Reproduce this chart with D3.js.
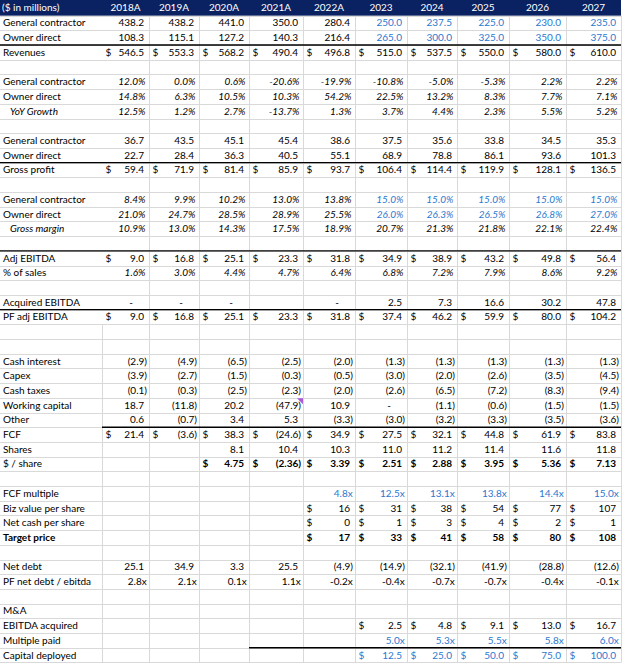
<!DOCTYPE html>
<html><head><meta charset="utf-8">
<script src="https://cdn.jsdelivr.net/npm/d3@7"></script>
<style>html,body{margin:0;padding:0;background:#fff;} svg{display:block;font-family:Lato,"Open Sans",sans-serif;}</style>
</head><body><div id="chart"></div>
<script>
// ---------- data ----------
const headerLabel = "($ in millions)";
const years = ["2018A","2019A","2020A","2021A","2022A","2023","2024","2025","2026","2027"];
const gcRevenue = [438.2,438.2,441.0,350.0,280.4,250.0,237.5,225.0,230.0,235.0];
const odRevenue = [108.3,115.1,127.2,140.3,216.4,265.0,300.0,325.0,350.0,375.0];
const revenues = [546.5,553.3,568.2,490.4,496.8,515.0,537.5,550.0,580.0,610.0];
const gcGrowth = [12.0,0.0,0.6,-20.6,-19.9,-10.8,-5.0,-5.3,2.2,2.2];
const odGrowth = [14.8,6.3,10.5,10.3,54.2,22.5,13.2,8.3,7.7,7.1];
const yoyGrowth = [12.5,1.2,2.7,-13.7,1.3,3.7,4.4,2.3,5.5,5.2];
const gcGrossProfit = [36.7,43.5,45.1,45.4,38.6,37.5,35.6,33.8,34.5,35.3];
const odGrossProfit = [22.7,28.4,36.3,40.5,55.1,68.9,78.8,86.1,93.6,101.3];
const grossProfit = [59.4,71.9,81.4,85.9,93.7,106.4,114.4,119.9,128.1,136.5];
const gcMargin = [8.4,9.9,10.2,13.0,13.8,15.0,15.0,15.0,15.0,15.0];
const odMargin = [21.0,24.7,28.5,28.9,25.5,26.0,26.3,26.5,26.8,27.0];
const grossMargin = [10.9,13.0,14.3,17.5,18.9,20.7,21.3,21.8,22.1,22.4];
const adjEbitda = [9.0,16.8,25.1,23.3,31.8,34.9,38.9,43.2,49.8,56.4];
const pctOfSales = [1.6,3.0,4.4,4.7,6.4,6.8,7.2,7.9,8.6,9.2];
const acquiredEbitda = [0,0,0,null,0,2.5,7.3,16.6,30.2,47.8];
const pfAdjEbitda = [9.0,16.8,25.1,23.3,31.8,37.4,46.2,59.9,80.0,104.2];
const cashInterest = [-2.9,-4.9,-6.5,-2.5,-2.0,-1.3,-1.3,-1.3,-1.3,-1.3];
const capex = [-3.9,-2.7,-1.5,-0.3,-0.5,-3.0,-2.0,-2.6,-3.5,-4.5];
const cashTaxes = [-0.1,-0.3,-2.5,-2.3,-2.0,-2.6,-6.5,-7.2,-8.3,-9.4];
const workingCapital = [18.7,-11.8,20.2,-47.9,10.9,0,-1.1,-0.6,-1.5,-1.5];
const otherItems = [0.6,-0.7,3.4,5.3,-3.3,-3.0,-3.2,-3.3,-3.5,-3.6];
const fcf = [21.4,-3.6,38.3,-24.6,34.9,27.5,32.1,44.8,61.9,83.8];
const shares = [null,null,8.1,10.4,10.3,11.0,11.2,11.4,11.6,11.8];
const perShare = [null,null,4.75,-2.36,3.39,2.51,2.88,3.95,5.36,7.13];
const fcfMultiple = [null,null,null,null,4.8,12.5,13.1,13.8,14.4,15.0];
const bizValuePerShare = [null,null,null,null,16,31,38,54,77,107];
const netCashPerShare = [null,null,null,null,0,1,3,4,2,1];
const targetPrice = [null,null,null,null,17,33,41,58,80,108];
const netDebt = [25.1,34.9,3.3,25.5,-4.9,-14.9,-32.1,-41.9,-28.8,-12.6];
const pfNetDebtToEbitda = [2.8,2.1,0.1,1.1,-0.2,-0.4,-0.7,-0.7,-0.4,-0.1];
const ebitdaAcquired = [null,null,null,null,null,2.5,4.8,9.1,13.0,16.7];
const multiplePaid = [null,null,null,null,null,5.0,5.3,5.5,5.8,6.0];
const capitalDeployed = [null,null,null,null,null,12.5,25.0,50.0,75.0,100.0];

// ---------- layout ----------
const W = 624, H = 664;
const labelWidth = 102;
const colWidths = [47,50,50,54,52,52,50,52,57,55];
const edges = Array.from(d3.cumsum([labelWidth, ...colWidths]));
const tableRight = edges[edges.length-1];
const colLeft = d3.scaleOrdinal(years, edges.slice(0, -1));
const colRight = d3.scaleOrdinal(years, edges.slice(1));
const rowH = 14.7, nRows = 45;
const rowY = d3.scaleLinear().domain([0, nRows]).range([0.95, 0.95 + rowH*nRows]);
const BLUE = "#2a78cf", NAVY = "#0b2262", GRID = "#d9d9d9";

const rows = [
  {label:"General contractor", values:gcRevenue, fmt:"num", blueFrom:5},
  {label:"Owner direct", values:odRevenue, fmt:"num", blueFrom:5},
  {label:"Revenues", values:revenues, fmt:"usd", rule:0},
  null,
  {label:"General contractor", values:gcGrowth, fmt:"pct"},
  {label:"Owner direct", values:odGrowth, fmt:"pct"},
  {label:"YoY Growth", values:yoyGrowth, fmt:"pct", labelItalic:true},
  null,
  {label:"General contractor", values:gcGrossProfit, fmt:"num"},
  {label:"Owner direct", values:odGrossProfit, fmt:"num"},
  {label:"Gross profit", values:grossProfit, fmt:"usd", rule:0},
  null,
  {label:"General contractor", values:gcMargin, fmt:"pct", blueFrom:5},
  {label:"Owner direct", values:odMargin, fmt:"pct", blueFrom:5},
  {label:"Gross margin", values:grossMargin, fmt:"pct", labelItalic:true},
  null,
  {label:"Adj EBITDA", values:adjEbitda, fmt:"usd", rule:0},
  {label:"% of sales", values:pctOfSales, fmt:"pct"},
  null,
  {label:"Acquired EBITDA", values:acquiredEbitda, fmt:"num"},
  {label:"PF adj EBITDA", values:pfAdjEbitda, fmt:"usd", rule:0},
  null, null,
  {label:"Cash interest", values:cashInterest, fmt:"num"},
  {label:"Capex", values:capex, fmt:"num"},
  {label:"Cash taxes", values:cashTaxes, fmt:"num"},
  {label:"Working capital", values:workingCapital, fmt:"num", comment:3},
  {label:"Other", values:otherItems, fmt:"num"},
  {label:"FCF", values:fcf, fmt:"usd", rule:labelWidth},
  {label:"Shares", values:shares, fmt:"num"},
  {label:"$ / share", values:perShare, fmt:"usd2", boldValues:true},
  null,
  {label:"FCF multiple", values:fcfMultiple, fmt:"mult", blueFrom:0},
  {label:"Biz value per share", values:bizValuePerShare, fmt:"usd0"},
  {label:"Net cash per share", values:netCashPerShare, fmt:"usd0"},
  {label:"Target price", values:targetPrice, fmt:"usd0", bold:true},
  null,
  {label:"Net debt", values:netDebt, fmt:"num"},
  {label:"PF net debt / ebitda", values:pfNetDebtToEbitda, fmt:"mult"},
  null,
  {label:"M&A"},
  {label:"EBITDA acquired", values:ebitdaAcquired, fmt:"usd"},
  {label:"Multiple paid", values:multiplePaid, fmt:"mult", blueFrom:0},
  {label:"Capital deployed", values:capitalDeployed, fmt:"usd", blueFrom:0, rule:edges[3]}
];

const svg = d3.select("#chart").append("svg").attr("width", W).attr("height", H)
  .style("font-size", "10px");

// gridlines
const grid = svg.append("g").attr("stroke", GRID).attr("stroke-width", 1);
grid.selectAll("line.h").data(d3.range(1, nRows+1)).join("line")
  .attr("x1", 0).attr("x2", tableRight)
  .attr("y1", d => Math.round(rowY(d)) + 0.5).attr("y2", d => Math.round(rowY(d)) + 0.5);
grid.selectAll("line.v").data(edges.slice(1)).join("line")
  .attr("x1", d => d + 0.5).attr("x2", d => d + 0.5)
  .attr("y1", rowY(1)).attr("y2", rowY(nRows));
grid.append("line").attr("x1", labelWidth + 0.5).attr("x2", labelWidth + 0.5)
  .attr("y1", rowY(22)).attr("y2", rowY(nRows));

// header
svg.append("rect").attr("x", 0).attr("y", 0).attr("width", tableRight).attr("height", rowY(1)).attr("fill", NAVY);
svg.append("text").attr("x", 2).attr("y", 11.3).attr("fill", "#fff").text(headerLabel);
svg.selectAll("text.yr").data(years).join("text").attr("class", "yr")
  .attr("x", d => (colLeft(d) + colRight(d)) / 2).attr("y", 11.3)
  .attr("text-anchor", "middle").attr("fill", "#fff").text(d => d);

// body
function cellParts(v, fmt) {
  if (v === null || v === undefined) return null;
  const neg = v < 0, a = Math.abs(v);
  if (fmt === "pct") return {text: (neg ? "-" : "") + a.toFixed(1) + "%", pad: 3.5};
  if (fmt === "mult") return {text: (neg ? "-" : "") + a.toFixed(1) + "x", pad: 2.3};
  const dec = fmt === "usd2" ? 2 : (fmt === "usd0" ? 0 : 1);
  const dollar = fmt.startsWith("usd");
  if (v === 0 && fmt === "num") return {dash: true, dollar};
  const s = a.toFixed(dec);
  return neg ? {text: "(" + s + ")", pad: 2, dollar} : {text: s, pad: 5, dollar};
}

rows.forEach((r, i) => {
  if (!r) return;
  const ri = i + 1;
  const base = rowY(ri) + 10.8;
  const g = svg.append("g");
  g.append("text")
    .attr("x", r.labelItalic ? 10 : 3).attr("y", base)
    .attr("font-style", r.labelItalic ? "italic" : null)
    .attr("font-weight", r.bold ? "bold" : null)
    .attr("fill", "#000").text(r.label);
  if (r.rule !== undefined) {
    svg.append("line").attr("x1", r.rule).attr("x2", tableRight)
      .attr("y1", rowY(ri)).attr("y2", rowY(ri))
      .attr("stroke", "#000").attr("stroke-width", 1.4);
  }
  if (!r.values) return;
  const cells = years.map((y, k) => ({y, k, v: r.values[k]}));
  cells.forEach(c => {
    const p = cellParts(c.v, r.fmt);
    if (!p) return;
    const col = (r.blueFrom !== undefined && c.k >= r.blueFrom) ? BLUE : "#000";
    const fw = (r.bold || r.boldValues) ? "bold" : null;
    const fs = r.fmt === "pct" ? "italic" : null;
    if (p.dollar) {
      g.append("text").attr("x", colLeft(c.y) + 3.5).attr("y", base)
        .attr("fill", col).attr("font-weight", fw).text("$");
    }
    if (p.dash) {
      g.append("text").attr("x", colRight(c.y) - 18).attr("y", base)
        .attr("text-anchor", "middle").attr("fill", col).text("-");
    } else {
      g.append("text").attr("x", colRight(c.y) - p.pad).attr("y", base)
        .attr("text-anchor", "end").attr("fill", col)
        .attr("font-weight", fw).attr("font-style", fs).text(p.text);
    }
  });
  if (r.comment !== undefined) {
    const xr = colRight(years[r.comment]), yt = rowY(ri) + 0.5;
    svg.append("path").attr("d", `M${xr-6},${yt}L${xr},${yt}L${xr},${yt+6}Z`).attr("fill", "#a85ad8");
  }
});
</script></body></html>
